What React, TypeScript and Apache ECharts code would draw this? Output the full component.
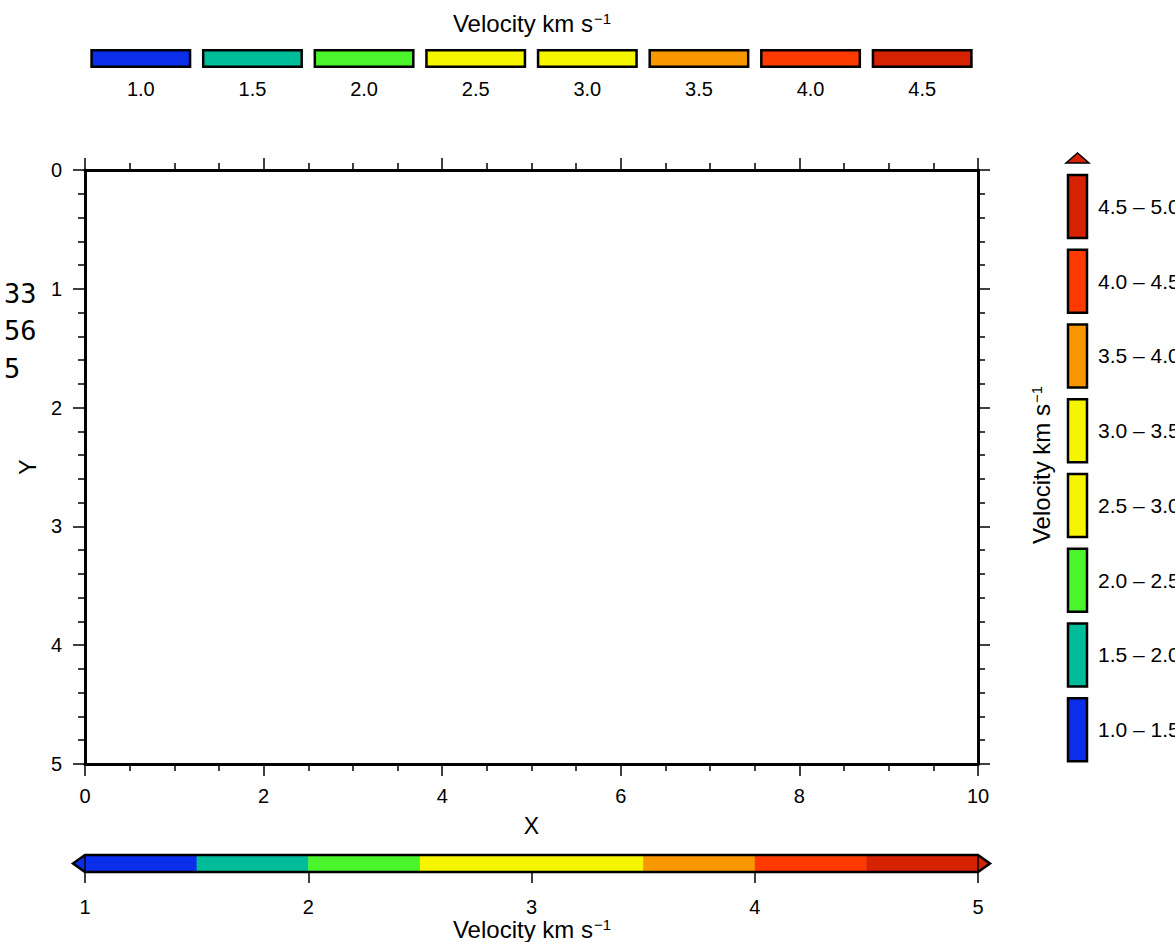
import React, { useEffect, useRef } from "react";
import * as echarts from "echarts";

// ---- data ----
const bounds = [1.0, 1.5, 2.0, 2.5, 3.0, 3.5, 4.0, 4.5, 5.0];
const colors = ["#0B2EEA", "#00BD9A", "#4BF52B", "#F5F500", "#F5F500", "#F99700", "#FF3A00", "#D62200"];
const legendLabels = ["1.0", "1.5", "2.0", "2.5", "3.0", "3.5", "4.0", "4.5"];
const rangeLabels = ["1.0 – 1.5", "1.5 – 2.0", "2.0 – 2.5", "2.5 – 3.0", "3.0 – 3.5", "3.5 – 4.0", "4.0 – 4.5", "4.5 – 5.0"];
const xRange = [0, 10];
const yRange = [0, 5];
const strayText = ["33", "56", "5"];

const FONT = "'Liberation Sans', Arial, Helvetica, sans-serif";
const BLACK = "#000";

function titleRich(x: number, y: number, rotation = 0) {
  return {
    type: "text",
    x,
    y,
    rotation,
    style: {
      text: "{a|Velocity km s}{b|−1}",
      align: "center",
      verticalAlign: "middle",
      rich: {
        a: { fontSize: 24, fontFamily: FONT, fill: BLACK },
        b: { fontSize: 15, fontFamily: FONT, fill: BLACK, verticalAlign: "top", padding: [0, 0, 9, 1] },
      },
    },
  };
}

export default function App() {
  const ref = useRef<HTMLDivElement>(null);
  useEffect(() => {
    document.body.style.margin = "0";
    const chart = echarts.init(ref.current!, null, { renderer: "svg" });

    const segData = bounds.slice(0, -1).map((b, i) => [b, bounds[i + 1], i]);

    const mainAxisCommon = {
      axisLine: { show: true, onZero: false, lineStyle: { color: BLACK, width: 3 } },
      axisTick: { show: true, length: 12, lineStyle: { color: BLACK, width: 1.5 } },
      splitLine: { show: false },
    };

    const option: any = {
      animation: false,
      backgroundColor: "#fff",
      grid: [
        { left: 85, top: 170, width: 893, height: 594, outerBoundsMode: "none", containLabel: false },
        { left: 85, top: 855, width: 893, height: 17, outerBoundsMode: "none", containLabel: false },
        { left: 85, top: 49, width: 893, height: 19, outerBoundsMode: "none", containLabel: false },
        { left: 1068, top: 169, width: 19, height: 598, outerBoundsMode: "none", containLabel: false },
      ],
      xAxis: [
        {
          gridIndex: 0, type: "value", position: "bottom", min: xRange[0], max: xRange[1], interval: 2,
          ...mainAxisCommon,
          minorTick: { show: true, splitNumber: 4, length: 7, lineStyle: { color: BLACK, width: 1.5 } },
          axisLabel: { fontSize: 20, fontFamily: FONT, color: BLACK, margin: 22 },
          name: "X", nameLocation: "middle", nameGap: 50,
          nameTextStyle: { fontSize: 23, fontFamily: FONT, color: BLACK },
        },
        {
          gridIndex: 0, type: "value", position: "top", min: xRange[0], max: xRange[1], interval: 2,
          ...mainAxisCommon,
          minorTick: { show: true, splitNumber: 4, length: 7, lineStyle: { color: BLACK, width: 1.5 } },
          axisLabel: { show: false },
        },
        {
          gridIndex: 1, type: "value", position: "bottom", min: 1, max: 5, interval: 1,
          axisLine: { show: false, onZero: false },
          axisTick: { show: true, length: 11, lineStyle: { color: BLACK, width: 1.5 } },
          axisLabel: { fontSize: 20, fontFamily: FONT, color: BLACK, margin: 25 },
          splitLine: { show: false },
        },
        {
          gridIndex: 2, type: "category", data: legendLabels, position: "bottom",
          axisLine: { show: false }, axisTick: { show: false },
          axisLabel: { fontSize: 20, fontFamily: FONT, color: BLACK, margin: 11 },
        },
        {
          gridIndex: 3, type: "value", min: 0, max: 1,
          axisLine: { show: false }, axisTick: { show: false }, axisLabel: { show: false }, splitLine: { show: false },
        },
      ],
      yAxis: [
        {
          gridIndex: 0, type: "value", position: "left", inverse: true, min: yRange[0], max: yRange[1], interval: 1,
          ...mainAxisCommon,
          minorTick: { show: true, splitNumber: 5, length: 7, lineStyle: { color: BLACK, width: 1.5 } },
          axisLabel: { fontSize: 20, fontFamily: FONT, color: BLACK, margin: 23 },
          name: "Y", nameLocation: "middle", nameGap: 45,
          nameTextStyle: { fontSize: 23, fontFamily: FONT, color: BLACK },
        },
        {
          gridIndex: 0, type: "value", position: "right", inverse: true, min: yRange[0], max: yRange[1], interval: 1,
          ...mainAxisCommon,
          minorTick: { show: true, splitNumber: 5, length: 7, lineStyle: { color: BLACK, width: 1.5 } },
          axisLabel: { show: false },
        },
        { gridIndex: 1, type: "category", data: ["bar"], show: false },
        { gridIndex: 2, type: "value", min: 0, max: 1, show: false },
        {
          gridIndex: 3, type: "category", data: rangeLabels, position: "right",
          axisLine: { show: false }, axisTick: { show: false },
          axisLabel: { fontSize: 21, fontFamily: FONT, color: BLACK, margin: 11 },
        },
      ],
      series: [
        { type: "scatter", xAxisIndex: 0, yAxisIndex: 0, data: [] },
        {
          type: "custom", xAxisIndex: 2, yAxisIndex: 2, clip: false,
          data: segData,
          renderItem: (params: any, api: any) => {
            const p0 = api.coord([api.value(0), 0]);
            const p1 = api.coord([api.value(1), 0]);
            const h = api.size([0, 1])[1];
            return {
              type: "rect",
              shape: { x: p0[0], y: p0[1] - h / 2, width: p1[0] - p0[0] + 0.5, height: h },
              style: { fill: colors[api.value(2)], stroke: null },
            };
          },
          z: 2,
        },
        {
          type: "custom", xAxisIndex: 2, yAxisIndex: 2, clip: false,
          data: [[bounds[0], bounds[bounds.length - 1]]],
          renderItem: (params: any, api: any) => {
            const a = api.coord([api.value(0), 0]);
            const b = api.coord([api.value(1), 0]);
            const h = api.size([0, 1])[1];
            const t = a[1] - h / 2;
            const btm = a[1] + h / 2;
            const tri = 12;
            return {
              type: "group",
              children: [
                {
                  type: "polygon",
                  shape: { points: [[a[0], t], [a[0] - tri, a[1]], [a[0], btm]] },
                  style: { fill: colors[0] },
                },
                {
                  type: "polygon",
                  shape: { points: [[b[0], t], [b[0] + tri, a[1]], [b[0], btm]] },
                  style: { fill: colors[colors.length - 1] },
                },
                {
                  type: "polygon",
                  shape: { points: [[a[0] - tri, a[1]], [a[0], t], [b[0], t], [b[0] + tri, a[1]], [b[0], btm], [a[0], btm]] },
                  style: { fill: null, stroke: BLACK, lineWidth: 2.5, lineJoin: "miter" },
                },
                {
                  type: "line",
                  shape: { x1: a[0], y1: t, x2: a[0], y2: btm },
                  style: { stroke: BLACK, lineWidth: 1.5 },
                },
                {
                  type: "line",
                  shape: { x1: b[0], y1: t, x2: b[0], y2: btm },
                  style: { stroke: BLACK, lineWidth: 1.5 },
                },
              ],
            };
          },
          z: 3,
        },
        {
          type: "bar", xAxisIndex: 3, yAxisIndex: 3, barWidth: 101,
          data: legendLabels.map((_, i) => ({ value: 1, itemStyle: { color: colors[i], borderColor: BLACK, borderWidth: 2.5 } })),
        },
        {
          type: "custom", xAxisIndex: 4, yAxisIndex: 4, clip: false,
          encode: { x: 0, y: 1 },
          data: rangeLabels.map((_, i) => [1, i]),
          renderItem: (params: any, api: any) => {
            const idx = api.value(1);
            const c0 = api.coord([0, idx]);
            const c1 = api.coord([api.value(0), idx]);
            const boxH = 63;
            return {
              type: "rect",
              shape: { x: c0[0], y: c0[1] - boxH / 2, width: c1[0] - c0[0], height: boxH },
              style: { fill: colors[idx], stroke: BLACK, lineWidth: 2.5 },
            };
          },
        },
      ],
      graphic: [
        titleRich(532, 23),
        titleRich(532, 929),
        titleRich(1041, 465, Math.PI / 2),
        {
          type: "polygon",
          shape: { points: [[1066, 163], [1077.5, 153], [1089, 163]] },
          style: { fill: colors[colors.length - 1], stroke: BLACK, lineWidth: 1.5 },
        },
        ...strayText.map((s, i) => ({
          type: "text",
          x: 4,
          y: 293 + i * 37.5,
          style: {
            text: s,
            font: "27px 'DejaVu Sans Mono', monospace",
            fill: BLACK,
            align: "left",
            verticalAlign: "middle",
          },
        })),
      ],
    };

    chart.setOption(option);
    return () => chart.dispose();
  }, []);

  return <div ref={ref} style={{ width: 1175, height: 942 }} />;
}
